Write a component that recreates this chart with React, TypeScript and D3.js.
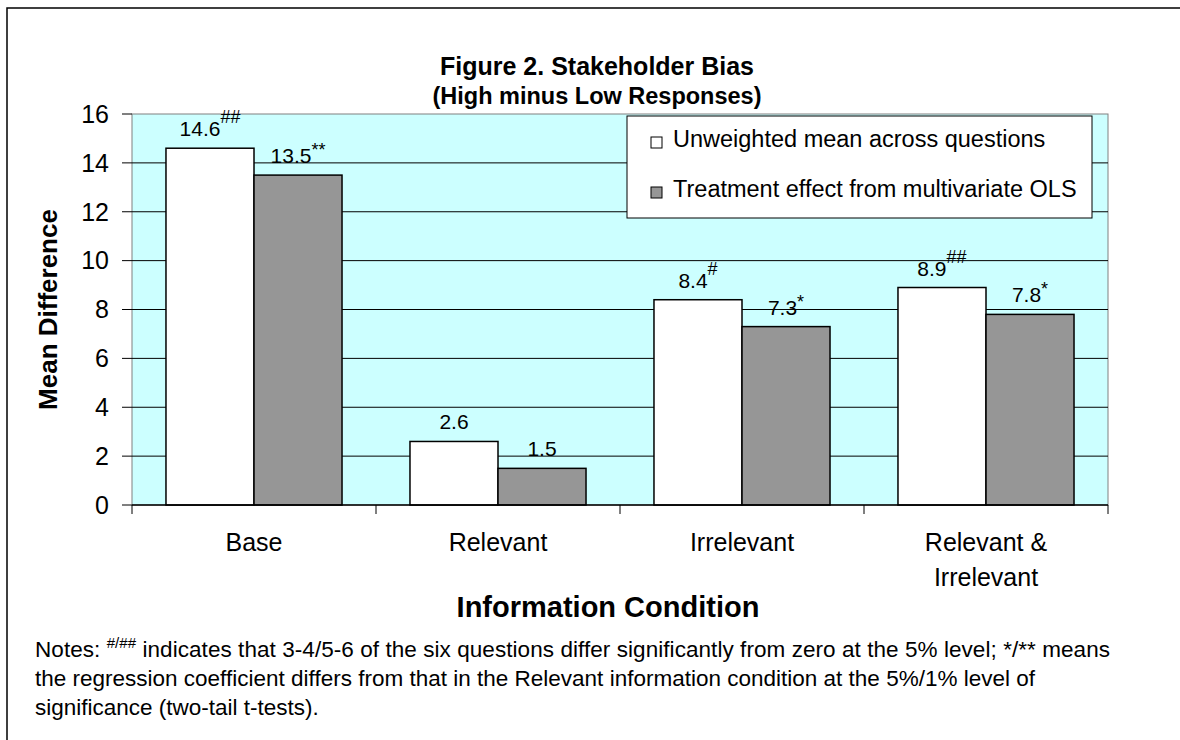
import React from 'react';
import * as d3 from 'd3';

const categories = ['Base', 'Relevant', 'Irrelevant', 'Relevant & Irrelevant'];
const seriesNames = ['Unweighted mean across questions', 'Treatment effect from multivariate OLS'];
const unweighted = [14.6, 2.6, 8.4, 8.9];
const unweightedMarks = ['##', '', '#', '##'];
const ols = [13.5, 1.5, 7.3, 7.8];
const olsMarks = ['**', '', '*', '*'];
const yTicks = [0, 2, 4, 6, 8, 10, 12, 14, 16];

const FONT = '"Liberation Sans", Arial, Helvetica, sans-serif';
const fills = ['#ffffff', '#969696'];

export default function App() {
  const W = 1180, H = 740;
  // plot area
  const left = 132, right = 1108, top = 114, bottom = 505;

  const x0 = d3.scaleBand().domain(categories).range([left, right]);
  const x1 = d3.scaleBand().domain(['u', 'o']).range([0, x0.bandwidth()]).paddingOuter(0.386);
  const y = d3.scaleLinear().domain([0, 16]).range([bottom, top]);

  const rows = categories.map((c, i) => ({
    cat: c,
    bars: [
      { key: 'u', value: unweighted[i], mark: unweightedMarks[i] },
      { key: 'o', value: ols[i], mark: olsMarks[i] },
    ],
  }));

  // the superscripts sit higher for # than for *
  const raise = (m: string) => (m.startsWith('#') ? 13 : 7);

  return (
    <svg width={W} height={H} style={{ position: 'absolute', left: 0, top: 0, background: '#fff' }} fontFamily={FONT}>
      {/* outer frame */}
      <rect x={7} y={8} width={1300} height={900} fill="none" stroke="#000" strokeWidth={1.5} />

      {/* titles */}
      <text x={597} y={75} textAnchor="middle" fontSize={25} fontWeight="bold">Figure 2. Stakeholder Bias</text>
      <text x={597} y={104} textAnchor="middle" fontSize={23.5} fontWeight="bold">(High minus Low Responses)</text>

      {/* plot area */}
      <rect x={left} y={top} width={right - left} height={bottom - top} fill="#ccffff" stroke="#808080" strokeWidth={1} />
      {yTicks.filter(t => t > 0 && t < 16).map(t => (
        <line key={t} x1={left} x2={right} y1={y(t)} y2={y(t)} stroke="#000" strokeWidth={1} />
      ))}

      {/* y axis */}
      {yTicks.map(t => (
        <g key={t}>
          <line x1={left - 10} x2={left} y1={y(t)} y2={y(t)} stroke="#000" />
          <text x={109} y={y(t)} dy="0.35em" textAnchor="end" fontSize={25}>{t}</text>
        </g>
      ))}
      <text transform={`translate(57,${(top + bottom) / 2}) rotate(-90)`} textAnchor="middle" fontSize={26} fontWeight="bold">Mean Difference</text>

      {/* bars */}
      {rows.map(r => (
        <g key={r.cat} transform={`translate(${x0(r.cat)},0)`}>
          {r.bars.map((b, j) => (
            <rect key={b.key} x={x1(b.key)} y={y(b.value)} width={x1.bandwidth()} height={bottom - y(b.value)}
              fill={fills[j]} stroke="#000" strokeWidth={1.5} />
          ))}
          {r.bars.map(b => (
            <text key={'l' + b.key} x={(x1(b.key) || 0) + x1.bandwidth() / 2} y={y(b.value) - 12}
              textAnchor="middle" fontSize={21}>
              {b.value.toFixed(1)}
              {b.mark && <tspan fontSize={18} dy={-raise(b.mark)}>{b.mark}</tspan>}
            </text>
          ))}
        </g>
      ))}

      {/* x axis */}
      <line x1={left} x2={right} y1={bottom} y2={bottom} stroke="#000" strokeWidth={1.5} />
      {[...categories.map(c => x0(c) || 0), right].map((v, i) => (
        <line key={i} x1={v} x2={v} y1={bottom} y2={bottom + 9} stroke="#000" />
      ))}
      {categories.map(c => (
        <text key={c} x={(x0(c) || 0) + x0.bandwidth() / 2} y={551} textAnchor="middle" fontSize={25}>
          {c.replace('& ', '&\n').split('\n').map((ln, k) => (
            <tspan key={k} x={(x0(c) || 0) + x0.bandwidth() / 2} dy={k === 0 ? 0 : 35}>{ln}</tspan>
          ))}
        </text>
      ))}
      <text x={608} y={617} textAnchor="middle" fontSize={29} fontWeight="bold">Information Condition</text>

      {/* legend */}
      <rect x={627} y={116} width={465} height={102} fill="#fff" stroke="#000" strokeWidth={1} />
      {seriesNames.map((s, i) => (
        <g key={s}>
          <rect x={651} y={137 + i * 50} width={11} height={11} fill={fills[i]} stroke="#000" strokeWidth={1} />
          <text x={673} y={147 + i * 50} fontSize={23.5}>{s}</text>
        </g>
      ))}

      {/* notes */}
      <text x={35} y={657} fontSize={22.5} textLength={1075} lengthAdjust="spacing">
        Notes: <tspan fontSize={15} dy={-9}>#/##</tspan><tspan fontSize={22.5} dy={9}> indicates that 3-4/5-6 of the six questions differ significantly from zero at the 5% level; */** means</tspan>
      </text>
      <text x={35} y={686} fontSize={22.5} textLength={1000} lengthAdjust="spacing">
        the regression coefficient differs from that in the Relevant information condition at the 5%/1% level of
      </text>
      <text x={35} y={715} fontSize={22.5}>significance (two-tail t-tests).</text>
    </svg>
  );
}
